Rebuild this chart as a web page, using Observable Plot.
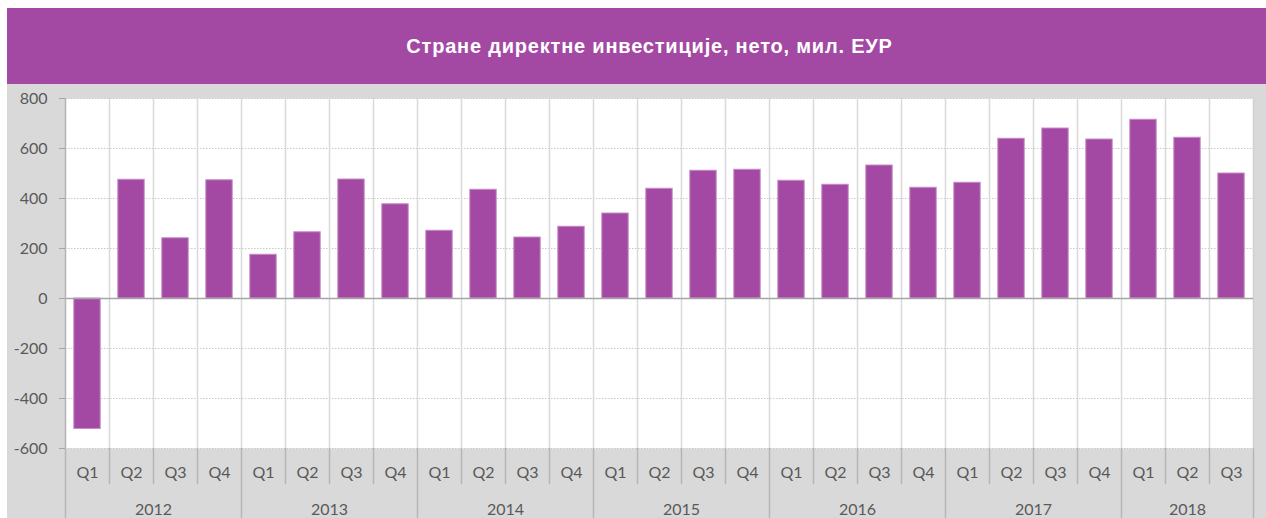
<!DOCTYPE html>
<html>
<head>
<meta charset="utf-8">
<script src="https://cdn.jsdelivr.net/npm/d3@7"></script>
<script src="https://cdn.jsdelivr.net/npm/@observablehq/plot@0.6"></script>
<style>
  html, body { margin: 0; padding: 0; background: #ffffff; }
  #wrap { position: absolute; left: 7px; top: 8px; width: 1259px; }
  #title { height: 76px; background: #A349A4; color: #ffffff;
           font: bold 20px "Liberation Sans", Arial, sans-serif; letter-spacing: 0.8px;
           display: flex; align-items: center; justify-content: center; padding-left: 26px; box-sizing: border-box; }
  #chart { background: #d9d9d9; height: 434px; }
  #chart svg { display: block; background: transparent; }
</style>
</head>
<body>
<div id="wrap">
  <div id="title">Стране директне инвестиције, нето, мил. ЕУР</div>
  <div id="chart"></div>
</div>
<script>
const years = ["2012", "2013", "2014", "2015", "2016", "2017", "2018"];
const quartersPerYear = [4, 4, 4, 4, 4, 4, 3];
const quarterNames = ["Q1", "Q2", "Q3", "Q4"];
const values = [-522, 475, 241, 473, 175, 265, 476, 377, 271, 435, 244, 287, 340, 439, 511, 515, 471, 455, 532, 443, 463, 639, 680, 636, 715, 643, 500];
const yTicks = [-600, -400, -200, 0, 200, 400, 600, 800];

// Build rows from the arrays
const rows = [];
const yearRows = [];
years.forEach((y, yi) => {
  const start = rows.length;
  for (let q = 0; q < quartersPerYear[yi]; q++) {
    const i = rows.length;
    rows.push({i, year: y, quarter: quarterNames[q], value: values[i]});
  }
  yearRows.push({year: y, start, end: rows.length});
});
const n = rows.length;
const yearBounds = [0, ...yearRows.map(d => d.end)];
const quarterBounds = d3.range(1, n).filter(b => !yearBounds.includes(b));
const innerBounds = d3.range(1, n);

const font = "Lato, 'Open Sans', sans-serif";
const textColor = "#595959";

const chart = Plot.plot({
  width: 1259,
  height: 434,
  marginLeft: 58,
  marginRight: 13,
  marginTop: 14,
  marginBottom: 70,
  style: {fontFamily: font, background: "transparent", color: textColor},
  x: {type: "linear", domain: [0, n]},
  y: {domain: [-600, 800]},
  marks: [
    Plot.frame({fill: "#ffffff", stroke: null}),
    Plot.ruleY(yTicks.filter(t => t !== 0), {y: d => d, stroke: "#c8c8c8", strokeWidth: 1, strokeDasharray: "1.5,1.5"}),
    Plot.ruleX(innerBounds, {x: d => d, stroke: "#d9d9d9", strokeWidth: 1.5}),
    Plot.ruleX([n], {x: d => d, stroke: "#d0d0d0", strokeWidth: 1.5}),
    Plot.rectY(rows, {x1: d => d.i + 0.2, x2: d => d.i + 0.8, y: "value", fill: "#A349A4", stroke: "#c58ec6", strokeWidth: 1}),
    Plot.ruleY([0], {y: d => d, stroke: "#a6a6a6", strokeWidth: 1.5}),
    Plot.ruleX([0], {x: d => d, stroke: "#b5b5b5", strokeWidth: 1.5}),
    Plot.axisY(yTicks, {label: null, tickSize: 6, tickPadding: 12, tickFormat: d => String(d), fontSize: 16, fill: textColor, stroke: "#a6a6a6"}),
    Plot.axisX(quarterBounds, {label: null, tickSize: 36, tickFormat: () => "", stroke: "#b5b5b5", strokeWidth: 1.5}),
    Plot.axisX(yearBounds, {label: null, tickSize: 70, tickFormat: () => "", stroke: "#b5b5b5", strokeWidth: 1.5}),
    Plot.text(rows, {x: d => d.i + 0.5, text: "quarter", frameAnchor: "bottom", dy: 24, lineAnchor: "middle", fontSize: 16, fill: textColor}),
    Plot.text(yearRows, {x: d => (d.start + d.end) / 2, text: "year", frameAnchor: "bottom", dy: 61, lineAnchor: "middle", fontSize: 16, fill: textColor})
  ]
});
document.getElementById("chart").appendChild(chart);
</script>
</body>
</html>
